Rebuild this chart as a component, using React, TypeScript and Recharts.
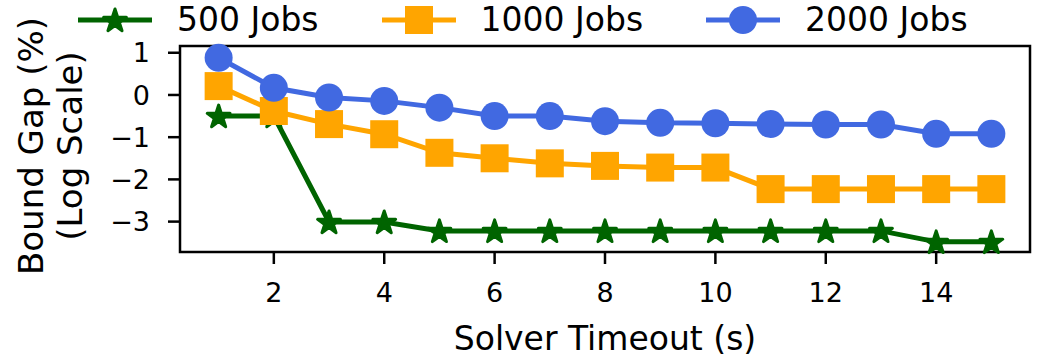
import React from "react";
import { LineChart, Line, XAxis, YAxis, ReferenceArea, Legend } from "recharts";

const timeouts = [1, 2, 3, 4, 5, 6, 7, 8, 9, 10, 11, 12, 13, 14, 15];
const jobs500 = [-0.5, -0.5, -3.01, -3.01, -3.22, -3.22, -3.22, -3.22, -3.22, -3.22, -3.22, -3.22, -3.22, -3.48, -3.48];
const jobs1000 = [0.21, -0.38, -0.69, -0.93, -1.37, -1.5, -1.62, -1.68, -1.72, -1.72, -2.23, -2.23, -2.23, -2.23, -2.23];
const jobs2000 = [0.88, 0.17, -0.06, -0.14, -0.3, -0.5, -0.5, -0.62, -0.66, -0.67, -0.69, -0.7, -0.7, -0.92, -0.92];
const xTicks = [2, 4, 6, 8, 10, 12, 14];
const yTicks = [-3, -2, -1, 0, 1];

const GREEN = "#006400";
const ORANGE = "#FFA500";
const BLUE = "#4169E1";
const FONT = "'DejaVu Sans', sans-serif";

const data = timeouts.map((t, i) => ({
  t,
  j500: jobs500[i],
  j1000: jobs1000[i],
  j2000: jobs2000[i],
}));

const series = [
  { key: "j500", name: "500 Jobs", color: GREEN, shape: "star" },
  { key: "j1000", name: "1000 Jobs", color: ORANGE, shape: "square" },
  { key: "j2000", name: "2000 Jobs", color: BLUE, shape: "circle" },
];

function starPoints(cx: number, cy: number, r: number) {
  const inner = r * 0.382;
  const pts: string[] = [];
  for (let i = 0; i < 10; i++) {
    const rad = i % 2 === 0 ? r : inner;
    const a = -Math.PI / 2 + (i * Math.PI) / 5;
    pts.push(`${cx + rad * Math.cos(a)},${cy + rad * Math.sin(a)}`);
  }
  return pts.join(" ");
}

function Marker({ shape, cx, cy, color }: { shape: string; cx: number; cy: number; color: string }) {
  if (shape === "star") {
    return <polygon points={starPoints(cx, cy + 1, 12)} fill={color} stroke={color} strokeWidth={3} strokeLinejoin="round" />;
  }
  if (shape === "square") {
    return <rect x={cx - 14} y={cy - 14} width={28} height={28} fill={color} />;
  }
  return <circle cx={cx} cy={cy} r={14} fill={color} />;
}

const makeDot = (shape: string, color: string) => (props: any) => {
  if (props.cx == null || props.cy == null) return <g key={props.index} />;
  return (
    <g key={`${shape}-${props.index}`}>
      <Marker shape={shape} cx={props.cx} cy={props.cy} color={color} />
    </g>
  );
};

const fmt = (v: number) => (v < 0 ? `\u2212${Math.abs(v)}` : `${v}`);

function renderLegend() {
  return (
    <div style={{ display: "flex", alignItems: "center", paddingLeft: 78, fontFamily: FONT, fontSize: 33, color: "#000" }}>
      {series.map((s, i) => (
        <div key={s.key} style={{ display: "flex", alignItems: "center", marginRight: i < series.length - 1 ? 63 : 0 }}>
          <svg width={74} height={32} style={{ overflow: "visible" }}>
            <line x1={0} y1={16} x2={74} y2={16} stroke={s.color} strokeWidth={5} />
            <Marker shape={s.shape} cx={37} cy={16} color={s.color} />
          </svg>
          <span style={{ marginLeft: 25, lineHeight: "40px" }}>{s.name}</span>
        </div>
      ))}
    </div>
  );
}

function YLabel(props: any) {
  const cy = 146;
  return (
    <g fontFamily={FONT} fontSize={34} fill="#000">
      <text x={43} y={cy} transform={`rotate(-90, 43, ${cy})`} textAnchor="middle">
        Bound Gap (%)
      </text>
      <text x={82} y={cy} transform={`rotate(-90, 82, ${cy})`} textAnchor="middle">
        (Log Scale)
      </text>
    </g>
  );
}

function XLabel(props: any) {
  const vb = props.viewBox || { x: 180, y: 252, width: 850 };
  return (
    <text x={vb.x + vb.width / 2} y={vb.y + 98} textAnchor="middle" fontFamily={FONT} fontSize={33} fill="#000">
      Solver Timeout (s)
    </text>
  );
}

export default function App() {
  return (
    <div style={{ position: "absolute", left: 0, top: 0, width: 1050, height: 360, background: "#fff" }}>
      <LineChart width={1050} height={360} data={data} margin={{ top: 46, right: 20, bottom: 0, left: 0 }}>
        <XAxis
          dataKey="t"
          type="number"
          domain={[0.3, 15.7]}
          ticks={xTicks}
          height={108}
          axisLine={false}
          tickSize={12}
          tickMargin={19}
          tickLine={{ stroke: "#000", strokeWidth: 2.5 }}
          tick={{ fill: "#000", fontSize: 27, fontFamily: FONT }}
          label={<XLabel />}
        />
        <YAxis
          type="number"
          domain={[-3.72, 1.16]}
          ticks={yTicks}
          width={180}
          axisLine={false}
          tickSize={12}
          tickMargin={18}
          tickLine={{ stroke: "#000", strokeWidth: 2.5 }}
          tick={{ fill: "#000", fontSize: 27, fontFamily: FONT }}
          tickFormatter={fmt}
          label={<YLabel />}
        />
        <Legend
          layout="horizontal"
          verticalAlign="middle"
          align="center"
          wrapperStyle={{ top: 0, left: 0, width: 1050 }}
          content={renderLegend}
        />
        {series.map((s) => (
          <Line
            key={s.key}
            dataKey={s.key}
            name={s.name}
            stroke={s.color}
            strokeWidth={5}
            dot={makeDot(s.shape, s.color)}
            activeDot={false}
            isAnimationActive={false}
          />
        ))}
        <ReferenceArea x1={0.3} x2={15.7} y1={-3.72} y2={1.16} fill="none" stroke="#000" strokeWidth={2.5} ifOverflow="visible" />
      </LineChart>
    </div>
  );
}
